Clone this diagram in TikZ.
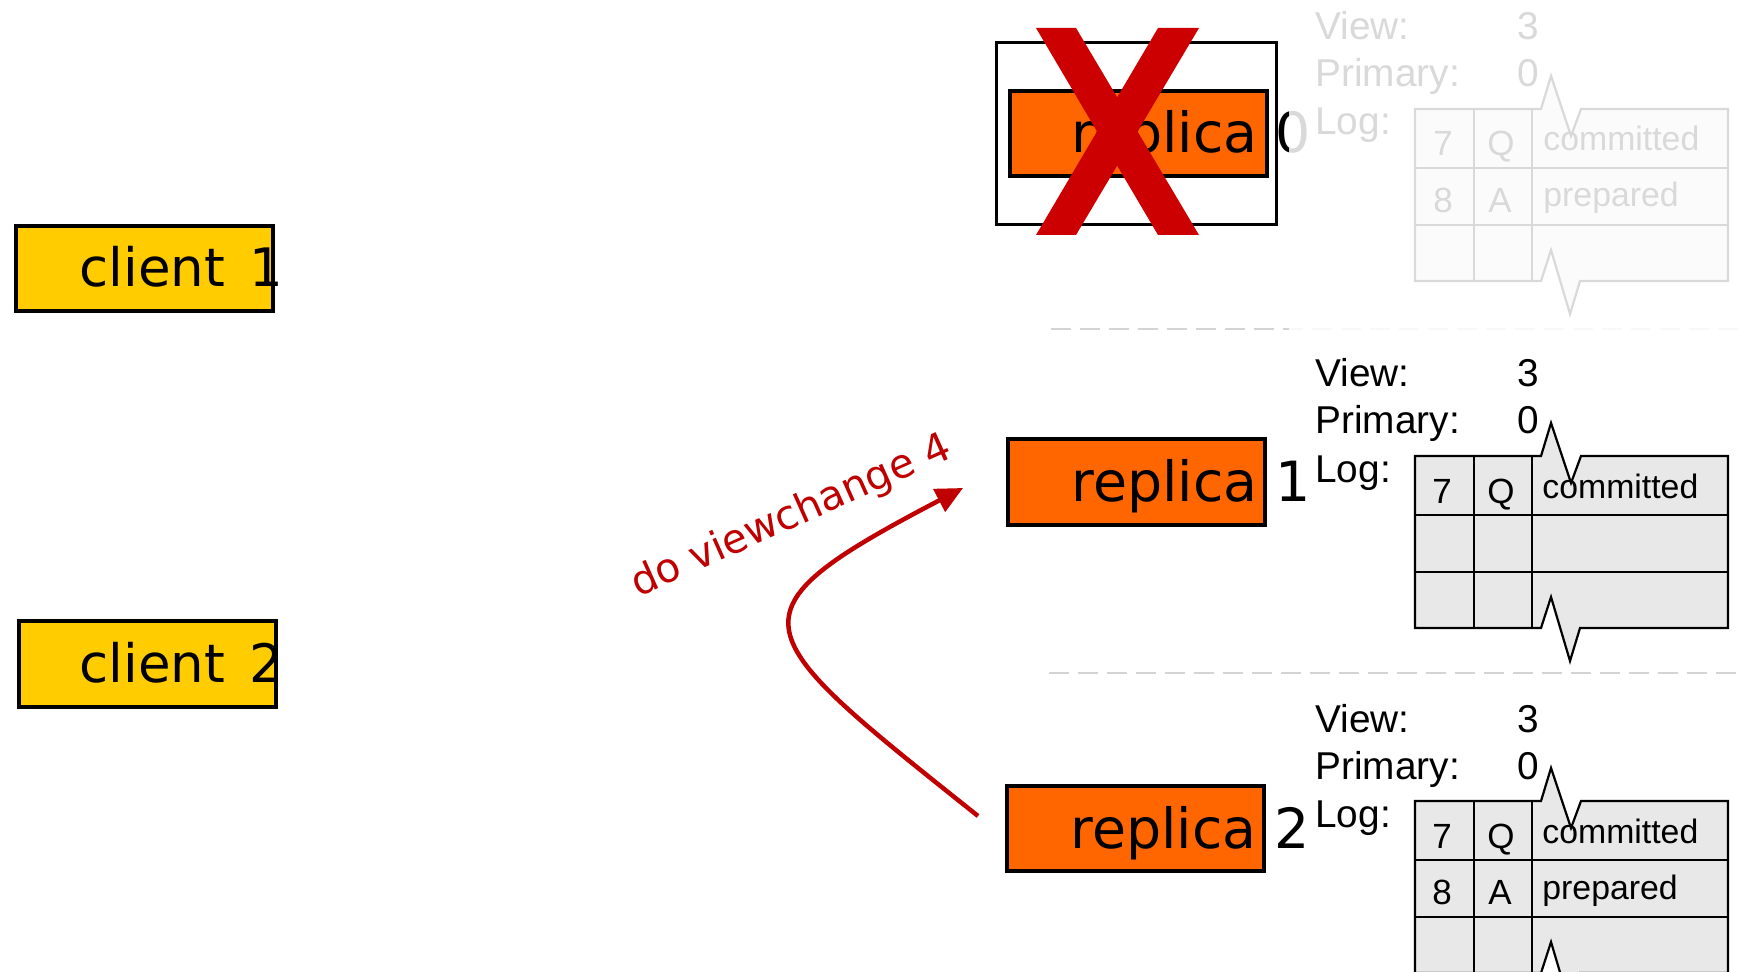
\documentclass[tikz,border=0pt]{standalone}
\usepackage{fontspec}
\setmainfont{DejaVu Sans}
\newfontfamily\helv{Liberation Sans}
\usetikzlibrary{arrows.meta}
\definecolor{clientyellow}{HTML}{FFCC00}
\definecolor{replorange}{HTML}{FF6600}
\definecolor{xred}{HTML}{CC0000}
\definecolor{arrred}{HTML}{C00000}
\definecolor{logfill}{HTML}{E8E8E8}
\definecolor{sepgray}{HTML}{D4D4D4}
\tikzset{
  boxfill/.style={minimum width=128.5pt, minimum height=42.5pt, inner sep=0pt, draw=none},
  clientbox/.style={boxfill, fill=clientyellow},
  replicabox/.style={boxfill, fill=replorange},
  boxborder/.style={draw=black, line width=2pt},
  boxlbl/.style={font=\fontsize{26.5}{30}\selectfont, inner sep=0pt, anchor=base west},
  repllbl/.style={font=\fontsize{27.7}{31}\selectfont, inner sep=0pt, anchor=base west},
  stlbl/.style={font=\helv\fontsize{19.4}{22}\selectfont, inner sep=0pt, anchor=base west},
  cellnum/.style={font=\helv\fontsize{17.5}{20}\selectfont, inner sep=0pt, anchor=base},
  cellstate/.style={font=\helv\fontsize{16.9}{19}\selectfont, inner sep=0pt, anchor=base west},
  sepline/.style={sepgray, line width=1.4pt, dash pattern=on 10pt off 4.5pt},
  tabline/.style={black, line width=1.1pt},
  rowline/.style={black, line width=1.3pt},
  vcarrow/.style={arrred, line width=2.25pt, -{Triangle[length=13.5pt,width=12.5pt]}},
}
% status block: #1 = top of log table (px), #2 = name prefix, #3 = cell contents
\newcommand\replstatus[3]{%
  \begin{scope}[shift={(0,#1)}]
    \fill[logfill] (1415,0) -- (1541,0) -- (1551,-33) -- (1571,27) -- (1581,0) -- (1728,0)
      -- (1728,172) -- (1580,172) -- (1570,205) -- (1551,141) -- (1541,172) -- (1415,172) -- cycle;
    #3
    \draw[tabline] (1474,0) -- (1474,172) (1532,0) -- (1532,172);
    \draw[rowline] (1415,59) -- (1728,59) (1415,116) -- (1728,116);
    \draw[tabline, line join=miter] (1415,0) -- (1541,0) -- (1551,-33) -- (1571,27) -- (1581,0) -- (1728,0)
      -- (1728,172) -- (1580,172) -- (1570,205) -- (1551,141) -- (1541,172) -- (1415,172) -- cycle;
    \node[stlbl] (#2view) at (1315,-69) {View:};
    \node[stlbl] (#2viewv) at (1517,-69) {3};
    \node[stlbl] (#2prim) at (1315,-22) {Primary:};
    \node[stlbl] (#2primv) at (1517,-22) {0};
    \node[stlbl] (#2log) at (1315,26) {Log:};
  \end{scope}}
\begin{document}
\begin{tikzpicture}[x=0.5pt, y=-0.5pt]
  \fill[white] (0,0) rectangle (1738,972);
  \useasboundingbox (0,0) rectangle (1738,972);

  % separators
  \draw[sepline] (1051,329) -- (1738,329);
  \draw[sepline] (1049,673) -- (1738,673);

  % clients
  \node[clientbox] (c1box) at (144.5,268.5) {};
  \node[boxlbl] (c1lbl) at (79,287) {client \kern4pt 1};
  \draw[boxborder] (c1box.south west) rectangle (c1box.north east);
  \node[clientbox] (c2box) at (147.5,664) {};
  \node[boxlbl] (c2lbl) at (79,682) {client \kern4pt 2};
  \draw[boxborder] (c2box.south west) rectangle (c2box.north east);

  % replica 0 (crashed)
  \node[draw=black, line width=1.5pt, minimum width=140pt, minimum height=91pt, inner sep=0pt] (r0outer) at (1136.5,133.5) {};
  \node[replicabox] (r0box) at (1138.5,133.5) {};
  \node[repllbl] (r0lbl) at (1071,153) {replica 0};
  \draw[boxborder] (r0box.south west) rectangle (r0box.north east);

  % replica 1
  \node[replicabox] (r1box) at (1136.5,482) {};
  \node[repllbl] (r1lbl) at (1071,502) {replica 1};
  \draw[boxborder] (r1box.south west) rectangle (r1box.north east);

  % replica 2
  \node[replicabox] (r2box) at (1135.5,828.5) {};
  \node[repllbl] (r2lbl) at (1070,848) {replica 2};
  \draw[boxborder] (r2box.south west) rectangle (r2box.north east);

  % status blocks
  \replstatus{109}{r0}{%
    \node[cellnum] (r0n1) at (1443,47) {7};
    \node[cellnum] (r0k1) at (1501,47) {Q};
    \node[cellstate] (r0s1) at (1543,42) {committed};
    \node[cellnum] (r0n2) at (1443,103.5) {8};
    \node[cellnum] (r0k2) at (1500,103.5) {A};
    \node[cellstate] (r0s2) at (1543,98) {prepared};
  }
  \replstatus{456}{r1}{%
    \node[cellnum] (r1n1) at (1442,47) {7};
    \node[cellnum] (r1k1) at (1501,47) {Q};
    \node[cellstate] (r1s1) at (1542,42) {committed};
  }
  \replstatus{801}{r2}{%
    \node[cellnum] (r2n1) at (1442,47) {7};
    \node[cellnum] (r2k1) at (1501,47) {Q};
    \node[cellstate] (r2s1) at (1542,42) {committed};
    \node[cellnum] (r2n2) at (1442,103.5) {8};
    \node[cellnum] (r2k2) at (1500,103.5) {A};
    \node[cellstate] (r2s2) at (1542,98) {prepared};
  }

  % fade the crashed replica's state
  \fill[white, fill opacity=0.85] (1289,0) rectangle (1738,340);

  % red cross
  \fill[xred] (1036,28) -- (1076,28) -- (1199,235) -- (1158,235) -- cycle;
  \fill[xred] (1158,28) -- (1199,28) -- (1076,235) -- (1036,235) -- cycle;

  % view change arrow
  \coordinate (vcstart) at (978,816);
  \coordinate (vcend) at (963,488);
  \draw[vcarrow] (vcstart) .. controls (745,630) and (720,615) .. (vcend);
  \node[font=\fontsize{20.3}{24}\selectfont, text=arrred, inner sep=0pt, anchor=base, rotate=24] (vclbl) at (796,527) {do viewchange 4};
\end{tikzpicture}
\end{document}
